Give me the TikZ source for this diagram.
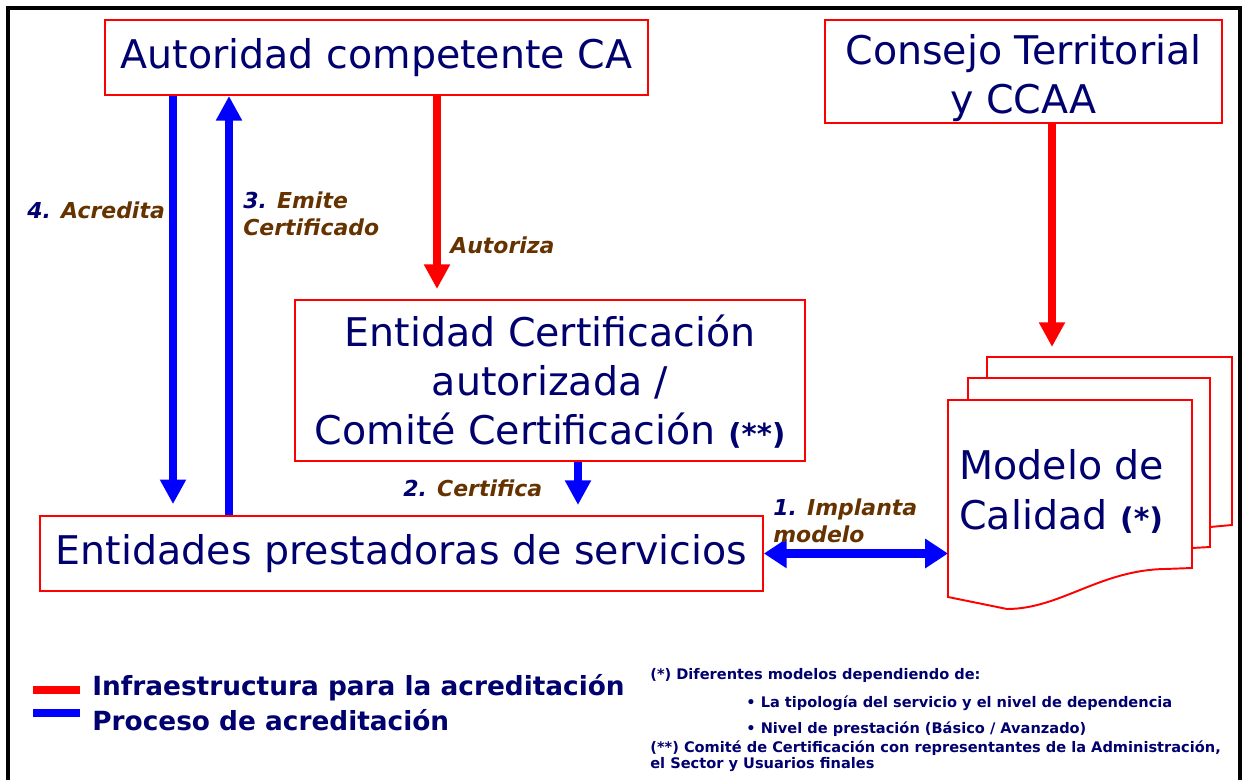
\documentclass[tikz,border=0pt]{standalone}
\usepackage{fontspec}
\setmainfont{DejaVu Sans}
\usetikzlibrary{arrows.meta}
\definecolor{navy}{RGB}{0,0,110}
\definecolor{ocre}{RGB}{102,51,0}
\definecolor{rojo}{RGB}{255,0,0}
\definecolor{azul}{RGB}{0,0,255}

\begin{document}
\begin{tikzpicture}[x=0.02cm, y=-0.02cm,
        caja/.style={draw=rojo, line width=1.1pt, fill=white, text=navy, inner sep=0pt, align=center,
            font=\fontsize{22.5}{27.8}\selectfont},
        hoja/.style={draw=rojo, line width=1.1pt, fill=white},
        flecharoja/.style={draw=rojo, line width=4.8pt, -{Triangle[length=14pt, width=14pt]}},
        flechaazul/.style={draw=azul, line width=4.8pt, -{Triangle[length=14pt, width=14pt]}},
        etiqueta/.style={text=ocre, inner sep=0pt, align=left, anchor=west,
            font=\fontsize{12.5}{15.5}\selectfont\bfseries\itshape},
        leyenda/.style={text=navy, inner sep=0pt, anchor=west, font=\fontsize{15}{18}\selectfont\bfseries},
        nota/.style={text=navy, inner sep=0pt, anchor=west, font=\fontsize{8.3}{10}\selectfont\bfseries}]
        \useasboundingbox (0,0) rectangle (1245,780);
        \draw[line width=2pt] (8,8) rectangle (1240,800);

        \node[caja, minimum width=10.86cm, minimum height=1.5cm] (ca) at (376.5,57.5) {Autoridad competente CA};
        \node[caja, minimum width=7.94cm, minimum height=2.06cm] (ct) at (1023.5,71.5)
            {\rule{0pt}{25pt}Consejo Territorial\\y CCAA};
        \node[caja, minimum width=10.2cm, minimum height=3.22cm] (ec) at (550,380.5)
            {\rule{0pt}{19pt}Entidad Certificación\\autorizada /\\Comité Certificación {\fontsize{16.5}{18}\selectfont\bfseries(**)}};
        \node[caja, minimum width=14.46cm, minimum height=1.5cm] (ep) at (401.5,553.5) {Entidades prestadoras de servicios};

        \draw[hoja] (987,378) -- (987,357) -- (1232,357) -- (1232,525) -- (1210,527);
        \draw[hoja] (968,400) -- (968,378) -- (1210,378) -- (1210,547) -- (1192,548);
        \draw[hoja] (948,400) -- (1192,400) -- (1192,568) -- (1165,569)
            .. controls (1100,570) and (1060,609) .. (1007,609) -- (948,597) -- cycle;
        \node[text=navy, inner sep=0pt, align=left, anchor=west, font=\fontsize{22.5}{28.5}\selectfont] (mc) at (959,491)
            {Modelo de\\Calidad {\fontsize{17}{18}\selectfont\bfseries(*)}};
        \coordinate (mcl) at (948,553.5);
        \coordinate (pila) at (1052,357);

        \coordinate (xa) at (437,0);
        \coordinate (xb) at (173,0);
        \coordinate (xc) at (229,0);
        \coordinate (xd) at (578,0);
        \draw[flecharoja, shorten >=5.7pt] (ca.south -| xa) -- (ec.north -| xa);
        \draw[flecharoja, shorten >=5.7pt] (ct.south -| pila) -- (pila);
        \draw[flechaazul, shorten >=6.2pt] (ca.south -| xb) -- (ep.north -| xb);
        \draw[flechaazul] (ep.north -| xc) -- (ca.south -| xc);
        \draw[flechaazul, shorten >=5.7pt] (ec.south -| xd) -- (ep.north -| xd);
        \draw[flechaazul, {Triangle[length=13pt, width=16pt]}-{Triangle[length=13pt, width=16pt]}] (ep.east) -- (mcl);

        \node[etiqueta] (l4) at (27,210) {\textcolor{navy}{4.} Acredita};
        \node[etiqueta] (l3) at (243,214) {\textcolor{navy}{3.} Emite\\Certificado};
        \node[etiqueta] (lau) at (450,245) {Autoriza};
        \node[etiqueta] (l2) at (403,488) {\textcolor{navy}{2.} Certifica};
        \node[etiqueta] (l1) at (773,521) {\textcolor{navy}{1.} Implanta\\modelo};

        \node[fill=rojo, inner sep=0pt, minimum width=0.94cm, minimum height=0.16cm] (br) at (56.5,690) {};
        \node[fill=azul, inner sep=0pt, minimum width=0.94cm, minimum height=0.16cm] (bz) at (56.5,713) {};
        \node[leyenda] (tr) at (92,688) {Infraestructura para la acreditación};
        \node[leyenda] (tz) at (92,720) {Proceso de acreditación};

        \node[nota] (n1) at (650,675) {(*) Diferentes modelos dependiendo de:};
        \node[nota] (n2) at (746,703) {\textbullet\ La tipología del servicio y el nivel de dependencia};
        \node[nota] (n3) at (746,729) {\textbullet\ Nivel de prestación (Básico / Avanzado)};
        \node[nota] (n4) at (650,748) {(**) Comité de Certificación con representantes de la Administración,};
        \node[nota] (n5) at (650,765) {el Sector y Usuarios finales};
\end{tikzpicture}
\end{document}
